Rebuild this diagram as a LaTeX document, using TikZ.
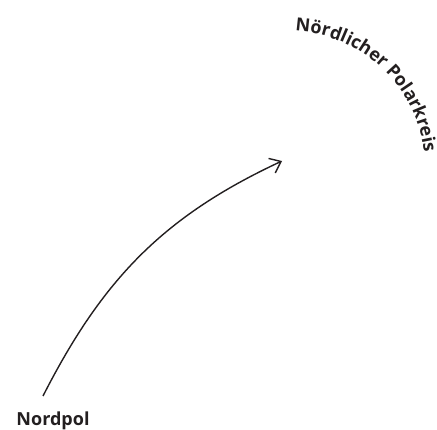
\documentclass[tikz,border=0pt]{standalone}
\usepackage{fontspec}
\setmainfont{Open Sans}
\usetikzlibrary{arrows.meta}

\definecolor{tinte}{HTML}{231F20}
\newcommand{\bogenschrift}{\bfseries\fontsize{18}{18}\selectfont}

\tikzset{
	beschriftung/.style={
		font=\bogenschrift,
		text=tinte,
		inner sep=0pt
	},
	bogenzeichen/.style={
		beschriftung,
		anchor=base
	},
	pfeil/.style={
		draw=tinte,
		line width=1.4pt,
		-{Straight Barb[length=10pt,width=16pt,line width=1.4pt]}
	}
}

\begin{document}
\begin{tikzpicture}
					
					% Rahmen (1 Pixel = 1pt)
					\useasboundingbox (0,0) rectangle (437pt,429pt);
					
					% Nordpol
					\node[beschriftung, anchor=base] (nordpol) at (53pt,3pt) {Nordpol};
					
					% Punkte
					\coordinate (pfeilstart) at (43pt,33pt);
					\coordinate (pfeilspitze) at (282pt,268pt);
					\coordinate (kreismitte) at (288pt,261pt);
					
					% Pfeil
					\draw[pfeil]
					(pfeilstart) to[out=63, in=205] (pfeilspitze);
					
					% Nördlicher Polarkreis (Buchstaben auf Kreisbogen, r = 137pt)
					\gdef\bogenpos{0}
					\foreach \zeichen/\extra in {N/0,ö/0,r/0,d/0,l/0,i/0,c/0,h/0,e/0,r/4.7,
						P/0,o/0,l/0,a/0,r/0,k/0,r/0,e/0,i/0,s/0}{
						\bogenschrift
						\pgfmathwidth{"\zeichen"}
						\let\breite\pgfmathresult
						\pgfmathsetmacro\winkel{87-deg((\bogenpos+\breite/2)/137)}
						\node[bogenzeichen, rotate=\winkel-90]
						at ([shift={(\winkel:137pt)}]kreismitte) {\zeichen};
						\pgfmathsetmacro\neu{\bogenpos+\breite+\extra}
						\global\let\bogenpos\neu
					}
					
				\end{tikzpicture}
\end{document}
